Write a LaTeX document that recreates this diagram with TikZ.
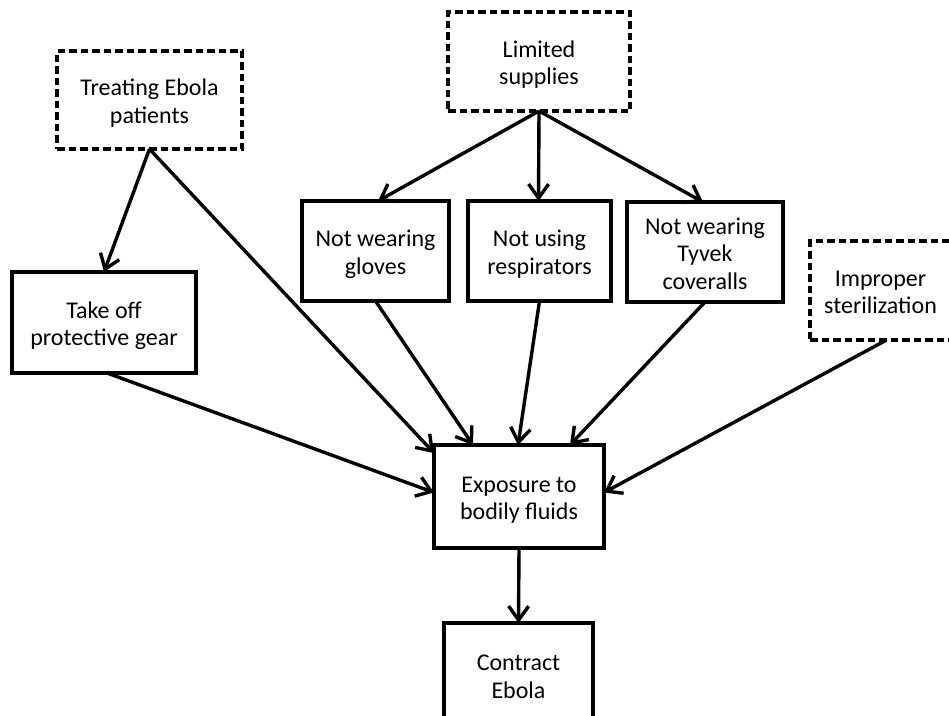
\documentclass[tikz,border=0pt]{standalone}
\usepackage{fontspec}
\setmainfont{Carlito}
\usetikzlibrary{arrows.meta,calc}
\newcommand\btxt[1]{\raisebox{-4pt}[\height][\depth]{\begin{tabular}{@{}c@{}}#1\end{tabular}}}
\tikzset{
  box/.style={draw, line width=3.4pt, anchor=north west, inner sep=0pt, outer sep=0pt,
    align=center, font=\fontsize{24}{27.5}\selectfont},
  dbox/.style={box, dash pattern=on 7.5pt off 4pt},
  arr/.style={line width=3.4pt, -{Straight Barb[length=14pt,width=20pt]}}
}
\begin{document}
\begin{tikzpicture}[x=1pt,y=-1pt]
\useasboundingbox (0,0) rectangle (949,715);
\clip (0,0) rectangle (949,715);
\fill[white] (0,0) rectangle (949,715);
\node[dbox, minimum width=185pt, minimum height=98pt] (treat) at (57,51) {\btxt{Treating Ebola\\patients}};
\node[dbox, minimum width=182pt, minimum height=99pt] (lim) at (448,12) {\btxt{Limited\\supplies}};
\node[box, minimum width=184pt, minimum height=101pt] (take) at (12,272) {\btxt{Take off\\protective gear}};
\node[box, minimum width=147pt, minimum height=100pt] (glv) at (302,201) {\btxt{Not wearing\\gloves}};
\node[box, minimum width=143pt, minimum height=100pt] (resp) at (468,201) {\btxt{Not using\\respirators}};
\node[box, minimum width=156pt, minimum height=100pt] (tyv) at (627,202) {\btxt{Not wearing\\Tyvek\\coveralls}};
\node[dbox, minimum width=141pt, minimum height=99pt] (imp) at (810,241) {\btxt{Improper\\sterilization}};
\node[box, minimum width=170pt, minimum height=103pt] (exp) at (434,445) {\btxt{Exposure to\\bodily fluids}};
\node[box, minimum width=149pt, minimum height=104pt] (con) at (444,623) {\btxt{Contract\\Ebola}};

\draw[arr] (lim.south) -- ([xshift=2.5pt]glv.north);
\draw[arr] (lim.south) -- ([xshift=-1pt]resp.north);
\draw[arr] (lim.south) -- ([xshift=-2pt]tyv.north);
\draw[arr] (treat.south) -- (take.north);
\draw[arr] (treat.south) -- ([yshift=-8pt]exp.north west);
\draw[arr] ([xshift=3pt]take.south) -- ([yshift=4pt]exp.west);
\draw[arr] (glv.south) -- ([xshift=-46pt]exp.north);
\draw[arr] (resp.south) -- ([xshift=-1pt]exp.north);
\draw[arr] (tyv.south) -- ([xshift=51pt]exp.north);
\draw[arr] ([xshift=6pt]imp.south) -- ([yshift=4pt]exp.east);
\draw[arr] (exp.south) -- (con.north);
\end{tikzpicture}
\end{document}
